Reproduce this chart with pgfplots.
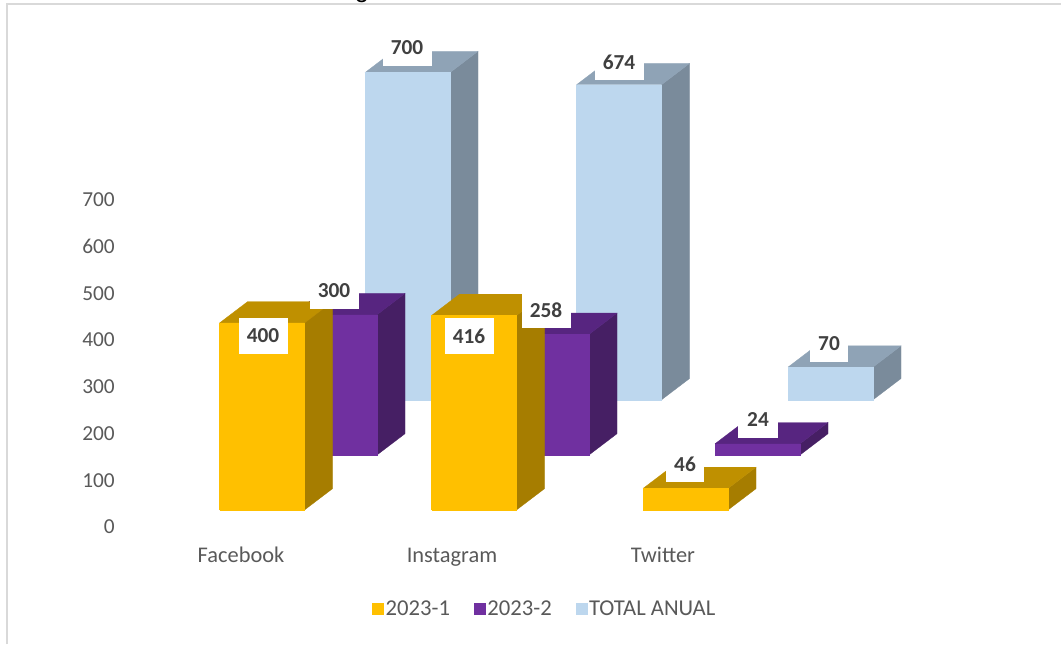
\documentclass[border=0pt]{standalone}
\usepackage{fontspec}
\setmainfont{Carlito}
\newfontfamily\arialfont{Liberation Sans}
\usepackage{pgfplots}
\pgfplotsset{compat=1.18}
\definecolor{Y}{HTML}{FFC000}\definecolor{YT}{HTML}{BF9000}\definecolor{YS}{HTML}{A67D00}
\definecolor{P}{HTML}{7030A0}\definecolor{PT}{HTML}{572580}\definecolor{PS}{HTML}{461F64}
\definecolor{B}{HTML}{BDD7EE}\definecolor{BT}{HTML}{8FA3B6}\definecolor{BS}{HTML}{7A8B9B}
\definecolor{txt}{HTML}{595959}\definecolor{lab}{HTML}{404040}
% #1 left px, #2 base offset, #3 value, #4 front, #5 top, #6 side
\newcommand{\Bar}[6]{%
  \pgfmathsetmacro\xr{#1+85}\pgfmathsetmacro\yt{#2+#3}%
  \pgfmathsetmacro\xa{#1+28}\pgfmathsetmacro\xb{\xr+28}%
  \pgfmathsetmacro\yb{\yt+45.5}\pgfmathsetmacro\yc{#2+45.5}%
  \edef\tmp{\noexpand\addplot[forget plot,no markers,fill=#6,draw=#6,line width=.2pt] coordinates {(\xr,#2)(\xb,\yc)(\xb,\yb)(\xr,\yt)(\xr,#2)};}\tmp
  \edef\tmp{\noexpand\addplot[forget plot,no markers,fill=#5,draw=#5,line width=.2pt] coordinates {(#1,\yt)(\xr,\yt)(\xb,\yb)(\xa,\yb)(#1,\yt)};}\tmp
  \edef\tmp{\noexpand\addplot[forget plot,no markers,fill=#4,draw=#4,line width=.2pt] coordinates {(#1,#2)(\xr,#2)(\xr,\yt)(#1,\yt)(#1,#2)};}\tmp
}
% #1 x px, #2 y px, #3 box width px, #4 text
\newcommand{\Lab}[4]{%
  \node[fill=white,inner sep=0pt,minimum width=#3*.75pt,minimum height=27pt,
        font=\fontsize{16}{18}\selectfont\bfseries,text=lab]
        at (axis cs:#1,{(527-#2)/0.4675}) {#4};
}
\begin{document}
\begin{tikzpicture}
\path[use as bounding box] (0,0) rectangle (795.75pt,483pt);
\begin{axis}[
  at={(0,0)},anchor=south west,
  scale only axis,width=795.75pt,height=483pt,
  xmin=0,xmax=1061,ymin=-250.27,ymax=1127.27,
  clip=false,
  axis x line=bottom,axis y line=left,
  axis line style={draw=none,-},
  major tick length=0pt,
  tick style={draw=none},
  ytick={0,100,200,300,400,500,600,700},
  xtick={241,452,663},
  xticklabels={Facebook,Instagram,Twitter},
  /pgf/number format/assume math mode=true,
  tick label style={font=\fontsize{16}{18}\selectfont,text=txt},
  yticklabel style={anchor=east,inner sep=0pt,xshift=86.25pt},
  xticklabel style={anchor=center,inner sep=0pt,yshift=65pt,text height=11pt,text depth=3pt,font=\fontsize{16.8}{18}\selectfont},
  legend style={at={(axis cs:544.5,-175)},anchor=center,draw=none,fill=none,
    legend columns=3,font=\fontsize{17}{18}\selectfont,text=txt,
    inner sep=0pt,
    /tikz/every even column/.append style={column sep=17pt},
    nodes={inner sep=1pt}},
  legend cell align=left,
  legend image code/.code={\fill[#1,draw=none] (-4pt,-4.5pt) rectangle (5pt,4.5pt);},
]
\draw[draw=black!15,line width=1.1pt] (axis cs:7,{-250.27}) -- (axis cs:7,{(527-4)/0.4675}) -- (axis cs:1061,{(527-4)/0.4675});
\node[font=\arialfont\fontsize{19}{20}\selectfont,anchor=base,text=black] at (axis cs:362,{(527+2.5)/0.4675}) {g};
% TOTAL ANUAL
\Bar{365}{272}{700}{B}{BT}{BS}
\Bar{576.5}{272}{674}{B}{BT}{BS}
\Bar{788}{272}{70}{B}{BT}{BS}
% 2023-2
\Bar{292}{154}{300}{P}{PT}{PS}
\Bar{504}{154}{258}{P}{PT}{PS}
\Bar{715}{154}{24}{P}{PT}{PS}
% 2023-1
\Bar{219.5}{36.4}{400}{Y}{YT}{YS}
\Bar{431.5}{36.4}{416}{Y}{YT}{YS}
\Bar{643}{36.4}{46}{Y}{YT}{YS}
\addlegendimage{fill=Y}\addlegendentry{2023-1}
\addlegendimage{fill=P}\addlegendentry{2023-2}
\addlegendimage{fill=B}\addlegendentry{TOTAL ANUAL}
\Lab{263}{336}{49}{400}
\Lab{469}{336}{49}{416}
\Lab{334}{291}{49}{300}
\Lab{546}{310}{49}{258}
\Lab{407}{48}{49}{700}
\Lab{619}{62}{49}{674}
\Lab{829}{344}{38}{70}
\Lab{758}{420}{40}{24}
\Lab{685}{464}{38}{46}
\end{axis}
\end{tikzpicture}
\end{document}
